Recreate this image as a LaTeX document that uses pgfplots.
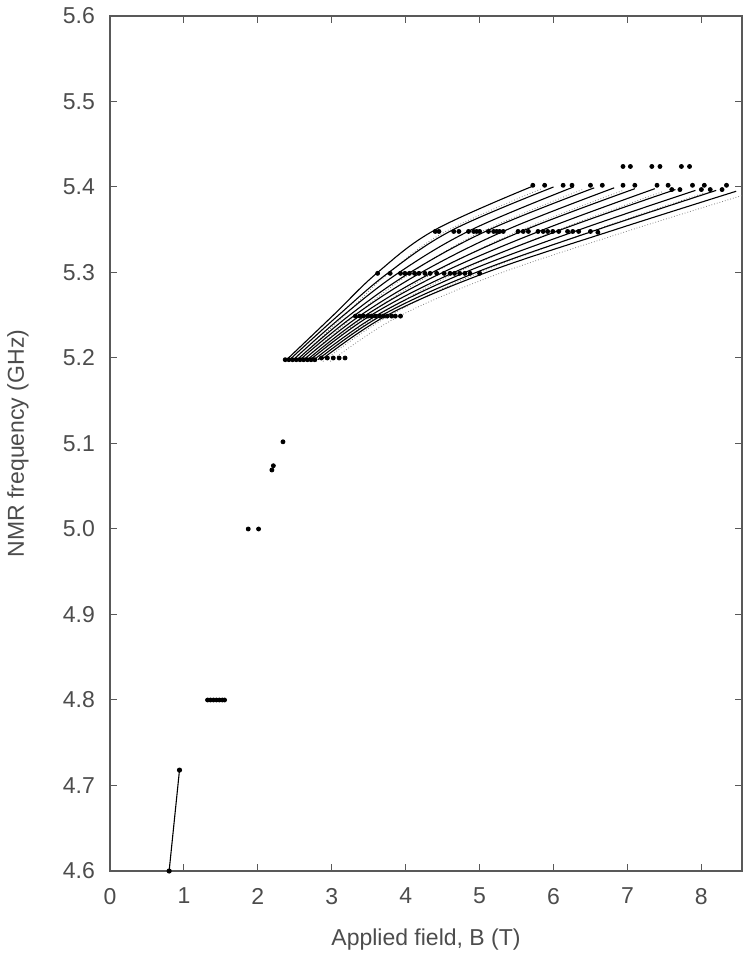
\documentclass[border=0pt]{standalone}
\usepackage{fontspec}
\setmainfont{Liberation Sans}
\usepackage{pgfplots}
\pgfplotsset{compat=1.18}
\begin{document}
\begin{tikzpicture}
\begin{axis}[
  width=316pt, height=427.5pt, scale only axis,
  xmin=0, xmax=8.55, ymin=4.6, ymax=5.6,
  xtick={0,1,2,3,4,5,6,7,8},
  ytick={4.6,4.7,4.8,4.9,5.0,5.1,5.2,5.3,5.4,5.5,5.6},
  /pgf/number format/assume math mode=true,
  yticklabel style={xshift=-4pt, /pgf/number format/fixed, /pgf/number format/fixed zerofill, /pgf/number format/precision=1},
  tick align=inside, major tick length=3.5pt,
  axis line style={black!65, line width=0.6pt},
  tick style={black!65, line width=0.5pt},
  font=\fontsize{11.5}{13}\selectfont,
  ticklabel style={text=black!70},
  xticklabel style={yshift=-5pt},
  xlabel={Applied field, B (T)},
  ylabel={NMR frequency (GHz)},
  xlabel style={at={(axis description cs:0.5,-0.0807)}, anchor=center, text=black!70},
  ylabel style={at={(axis description cs:-0.1456,0.5)}, anchor=center, text=black!70},
]
\coordinate (ll) at (rel axis cs:0,0);
\coordinate (ur) at (rel axis cs:1,1);

% dotted companion curves
\pgfplotsset{dcurve/.style={black!50, densely dotted, line width=0.4pt, smooth, tension=0.6}}
\addplot[dcurve] coordinates {(2.51,5.196) (3.14,5.247) (3.74,5.297) (4.52,5.347) (5.84,5.398)};
\addplot[dcurve] coordinates {(2.60,5.196) (3.28,5.247) (4.03,5.297) (5.01,5.347) (6.39,5.397)};
\addplot[dcurve] coordinates {(2.69,5.196) (3.43,5.247) (4.33,5.297) (5.49,5.347) (6.94,5.396)};
\addplot[dcurve] coordinates {(2.79,5.196) (3.58,5.247) (4.62,5.297) (5.98,5.347) (7.49,5.395)};
\addplot[dcurve] coordinates {(2.88,5.196) (3.73,5.247) (4.92,5.297) (6.47,5.347) (8.04,5.393)};
\addplot[dcurve] coordinates {(2.98,5.196) (3.87,5.247) (5.21,5.297) (6.95,5.347) (8.55,5.390)};

% solid curves
\pgfplotsset{scurve/.style={black, line width=0.55pt, smooth, tension=0.6}}
\addplot[scurve] coordinates {(2.39,5.198) (3.02,5.25) (3.62,5.30) (4.40,5.35) (5.72,5.401)};
\addplot[scurve] coordinates {(2.43,5.198) (3.09,5.25) (3.77,5.30) (4.64,5.35) (6.00,5.400)};
\addplot[scurve] coordinates {(2.48,5.198) (3.16,5.25) (3.91,5.30) (4.89,5.35) (6.27,5.400)};
\addplot[scurve] coordinates {(2.53,5.198) (3.24,5.25) (4.06,5.30) (5.13,5.35) (6.55,5.399)};
\addplot[scurve] coordinates {(2.57,5.198) (3.31,5.25) (4.21,5.30) (5.37,5.35) (6.82,5.399)};
\addplot[scurve] coordinates {(2.62,5.198) (3.39,5.25) (4.36,5.30) (5.62,5.35) (7.10,5.398)};
\addplot[scurve] coordinates {(2.67,5.198) (3.46,5.25) (4.50,5.30) (5.86,5.35) (7.37,5.398)};
\addplot[scurve] coordinates {(2.71,5.198) (3.53,5.25) (4.65,5.30) (6.10,5.35) (7.65,5.397)};
\addplot[scurve] coordinates {(2.76,5.198) (3.61,5.25) (4.80,5.30) (6.35,5.35) (7.92,5.396)};
\addplot[scurve] coordinates {(2.81,5.198) (3.68,5.25) (4.95,5.30) (6.59,5.35) (8.20,5.396)};
\addplot[scurve] coordinates {(2.86,5.198) (3.75,5.25) (5.09,5.30) (6.83,5.35) (8.47,5.395)};

% low-field segment
\addplot[black, line width=0.55pt, mark=*, mark size=1.0pt] coordinates {(0.80,4.6) (0.94,4.718)};

% measured points
\addplot[only marks, mark=*, mark size=1.0pt, black] coordinates {
(1.32,4.8) (1.36,4.8) (1.40,4.8) (1.44,4.8) (1.48,4.8) (1.52,4.8) (1.55,4.8)
(1.87,5.0) (2.01,5.0)
(2.19,5.069) (2.21,5.074)
(2.34,5.102)
(2.37,5.198) (2.42,5.198) (2.47,5.198) (2.52,5.198) (2.57,5.198) (2.62,5.198) (2.67,5.198) (2.72,5.198) (2.77,5.198)
(2.86,5.200) (2.94,5.200) (3.02,5.200) (3.10,5.200) (3.18,5.200)
(3.32,5.249) (3.38,5.249) (3.43,5.249) (3.49,5.249) (3.54,5.249) (3.59,5.249) (3.65,5.249) (3.70,5.249) (3.75,5.249) (3.81,5.249) (3.86,5.249) (3.93,5.249)
(3.62,5.299) (3.79,5.299) (3.93,5.299) (3.99,5.299) (4.05,5.299) (4.12,5.299) (4.18,5.299) (4.26,5.299) (4.33,5.299) (4.42,5.299) (4.52,5.299) (4.60,5.299) (4.66,5.299) (4.73,5.299) (4.80,5.299) (4.87,5.299) (5.00,5.299)
(4.40,5.348) (4.45,5.348) (4.65,5.348) (4.72,5.348) (4.85,5.348) (4.92,5.348) (4.96,5.348) (5.00,5.348) (5.12,5.348) (5.19,5.348) (5.23,5.348) (5.27,5.348) (5.32,5.348) (5.52,5.348) (5.59,5.348) (5.66,5.348) (5.79,5.348) (5.86,5.348) (5.92,5.348) (5.99,5.348) (6.07,5.348) (6.19,5.348) (6.26,5.348) (6.34,5.348) (6.50,5.348) (6.60,5.347)
(5.72,5.402) (5.88,5.402) (6.13,5.402) (6.25,5.402) (6.50,5.402) (6.66,5.402) (6.94,5.402) (7.10,5.402) (7.40,5.402) (7.55,5.402) (7.88,5.402) (8.04,5.402) (8.34,5.402)
(7.60,5.397) (7.71,5.397) (8.00,5.397) (8.12,5.397) (8.28,5.397)
(6.94,5.424) (7.04,5.424) (7.33,5.424) (7.44,5.424) (7.73,5.424) (7.84,5.424)
};
\end{axis}
\pgfresetboundingbox
\path[use as bounding box] ([shift={(-55pt,-49pt)}]ll) rectangle ([shift={(6.5pt,8pt)}]ur);
\end{tikzpicture}
\end{document}
